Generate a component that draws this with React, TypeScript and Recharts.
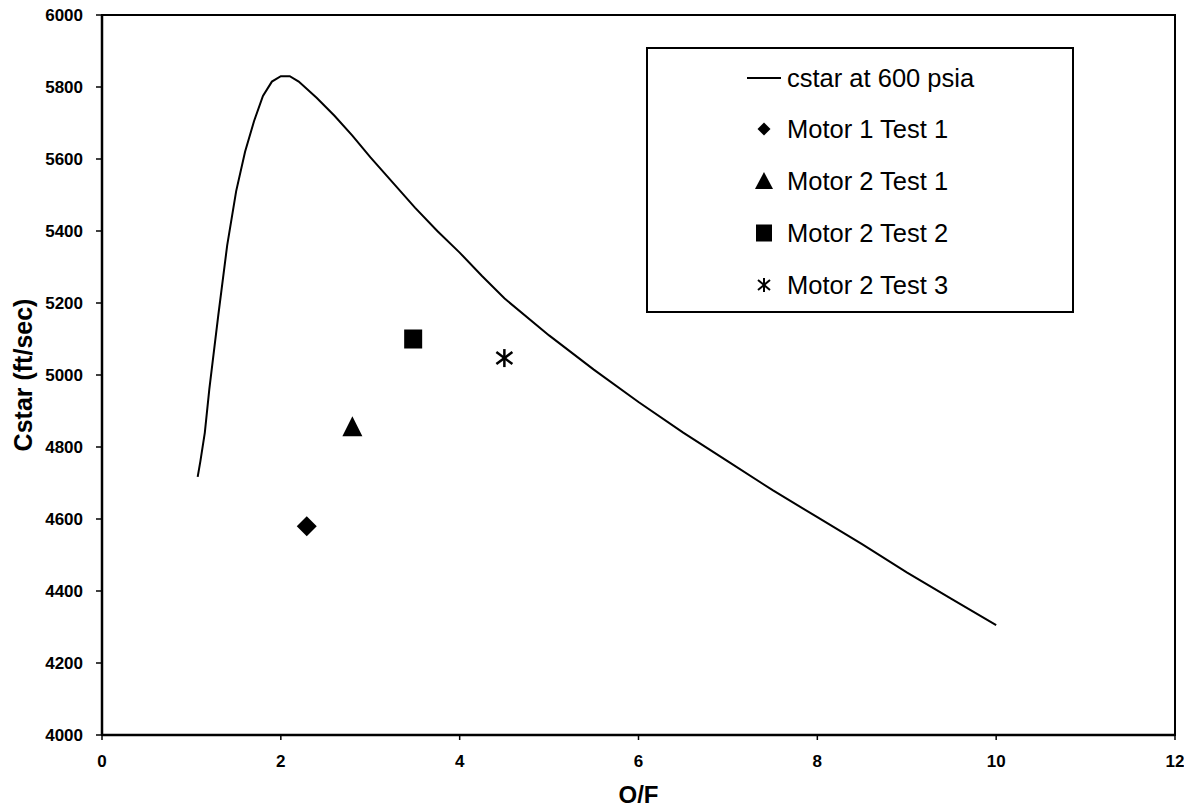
import React from 'react';
import { ComposedChart, Line, Scatter, XAxis, YAxis, ReferenceArea, Legend } from 'recharts';

// O/F values along the theoretical cstar curve
const curveOF = [1.07, 1.1, 1.15, 1.2, 1.3, 1.4, 1.5, 1.6, 1.7, 1.8, 1.9, 2.0, 2.1, 2.2, 2.4, 2.6, 2.8, 3.0, 3.25, 3.5, 3.75, 4.0, 4.25, 4.5, 5.0, 5.5, 6.0, 6.5, 7.0, 7.5, 8.0, 8.5, 9.0, 9.5, 10.0];
// cstar (ft/sec) at 600 psia
const curveCstar = [4717, 4760, 4840, 4960, 5165, 5360, 5510, 5620, 5705, 5775, 5815, 5830, 5830, 5815, 5770, 5720, 5665, 5605, 5535, 5465, 5400, 5340, 5275, 5213, 5110, 5015, 4925, 4840, 4760, 4680, 4605, 4530, 4452, 4378, 4305];

const motor1Test1 = [{ of: 2.29, cstar: 4580 }];
const motor2Test1 = [{ of: 2.8, cstar: 4855 }];
const motor2Test2 = [{ of: 3.48, cstar: 5100 }];
const motor2Test3 = [{ of: 4.5, cstar: 5047 }];

const seriesNames = ['cstar at 600 psia', 'Motor 1 Test 1', 'Motor 2 Test 1', 'Motor 2 Test 2', 'Motor 2 Test 3'];
const xTicks = [0, 2, 4, 6, 8, 10, 12];
const yTicks = [4000, 4200, 4400, 4600, 4800, 5000, 5200, 5400, 5600, 5800, 6000];

const curveData = curveOF.map((of, i) => ({ of, cstar: curveCstar[i] }));

const FONT = '"Liberation Sans", Arial, Helvetica, sans-serif';

const Diamond = (props: any) => {
  const { cx, cy } = props;
  return <path d={`M${cx},${cy - 10}L${cx + 10},${cy}L${cx},${cy + 10}L${cx - 10},${cy}Z`} fill="#000" />;
};
const Triangle = (props: any) => {
  const { cx, cy } = props;
  return <path d={`M${cx},${cy - 11}L${cx + 10},${cy + 9}L${cx - 10},${cy + 9}Z`} fill="#000" />;
};
const Square = (props: any) => {
  const { cx, cy } = props;
  return <rect x={cx - 9} y={cy - 9.5} width={18} height={19} fill="#000" />;
};
const Asterisk = (props: any) => {
  const { cx, cy } = props;
  return (
    <g stroke="#000" strokeWidth={2.5} fill="none">
      <line x1={cx} y1={cy - 9} x2={cx} y2={cy + 9} />
      <line x1={cx - 8} y1={cy - 6} x2={cx + 8} y2={cy + 6} />
      <line x1={cx - 8} y1={cy + 6} x2={cx + 8} y2={cy - 6} />
    </g>
  );
};

const legendIcon = (i: number) => {
  const cx = 17;
  const cy = 13;
  if (i === 0) return <line x1={0} y1={cy} x2={34} y2={cy} stroke="#000" strokeWidth={2} />;
  if (i === 1) return <path d={`M${cx},${cy - 6.5}L${cx + 6.5},${cy}L${cx},${cy + 6.5}L${cx - 6.5},${cy}Z`} fill="#000" />;
  if (i === 2) return <path d={`M${cx},${cy - 9}L${cx + 9},${cy + 8}L${cx - 9},${cy + 8}Z`} fill="#000" />;
  if (i === 3) return <rect x={cx - 8} y={cy - 8.5} width={16} height={17} fill="#000" />;
  return (
    <g stroke="#000" strokeWidth={2} fill="none">
      <line x1={cx} y1={cy - 7} x2={cx} y2={cy + 7} />
      <line x1={cx - 6} y1={cy - 5} x2={cx + 6} y2={cy + 5} />
      <line x1={cx - 6} y1={cy + 5} x2={cx + 6} y2={cy - 5} />
    </g>
  );
};

const rowCenters = [29, 80, 132, 184, 236];

const renderLegend = () => (
  <div
    style={{
      width: 428,
      height: 266,
      border: '2px solid #000',
      boxSizing: 'border-box',
      background: '#fff',
      position: 'relative',
      fontFamily: FONT,
      fontSize: 25.5,
      color: '#000',
    }}
  >
    {seriesNames.map((name, i) => (
      <div
        key={name}
        style={{ position: 'absolute', left: 99, top: rowCenters[i] - 14, height: 28, display: 'flex', alignItems: 'center', whiteSpace: 'nowrap' }}
      >
        <svg width={34} height={26} style={{ display: 'block' }}>{legendIcon(i)}</svg>
        <span style={{ marginLeft: 6, lineHeight: '28px' }}>{name}</span>
      </div>
    ))}
  </div>
);

export default function App() {
  return (
    <div style={{ position: 'absolute', left: 0, top: 0, width: 1184, height: 809, background: '#fff', overflow: 'hidden' }}>
      <ComposedChart width={1184} height={809} margin={{ top: 15, right: 9, left: 22, bottom: 0 }}>
        <XAxis
          dataKey="of"
          type="number"
          domain={[0, 12]}
          ticks={xTicks}
          height={74}
          tickSize={5}
          tickMargin={15}
          axisLine={{ stroke: '#000', strokeWidth: 2.5 }}
          tickLine={{ stroke: '#000', strokeWidth: 1.5 }}
          tick={{ fill: '#000', fontSize: 17, fontWeight: 'bold', fontFamily: FONT }}
          label={{ value: 'O/F', position: 'insideBottom', offset: 6, style: { fill: '#000', fontSize: 24, fontWeight: 'bold', fontFamily: FONT } }}
          allowDataOverflow
        />
        <YAxis
          dataKey="cstar"
          type="number"
          domain={[4000, 6000]}
          ticks={yTicks}
          width={80}
          tickSize={6}
          tickMargin={13}
          axisLine={{ stroke: '#000', strokeWidth: 2.5 }}
          tickLine={{ stroke: '#000', strokeWidth: 1.5 }}
          tick={{ fill: '#000', fontSize: 17, fontWeight: 'bold', fontFamily: FONT }}
          label={{ value: 'Cstar (ft/sec)', angle: -90, position: 'insideLeft', offset: 1, style: { textAnchor: 'middle', fill: '#000', fontSize: 25, fontWeight: 'bold', fontFamily: FONT } }}
          allowDataOverflow
        />
        <ReferenceArea x1={0} x2={12} y1={4000} y2={6000} fill="none" stroke="#000" strokeWidth={2} ifOverflow="visible" />
        <Legend layout="vertical" align="center" verticalAlign="middle" content={renderLegend} wrapperStyle={{ position: 'absolute', left: 646, top: 47, width: 428, height: 266 }} />
        <Line data={curveData} dataKey="cstar" name={seriesNames[0]} type="linear" stroke="#000" strokeWidth={2} dot={false} activeDot={false} isAnimationActive={false} />
        <Scatter data={motor1Test1} dataKey="cstar" name={seriesNames[1]} shape={Diamond} isAnimationActive={false} />
        <Scatter data={motor2Test1} dataKey="cstar" name={seriesNames[2]} shape={Triangle} isAnimationActive={false} />
        <Scatter data={motor2Test2} dataKey="cstar" name={seriesNames[3]} shape={Square} isAnimationActive={false} />
        <Scatter data={motor2Test3} dataKey="cstar" name={seriesNames[4]} shape={Asterisk} isAnimationActive={false} />
      </ComposedChart>
    </div>
  );
}
